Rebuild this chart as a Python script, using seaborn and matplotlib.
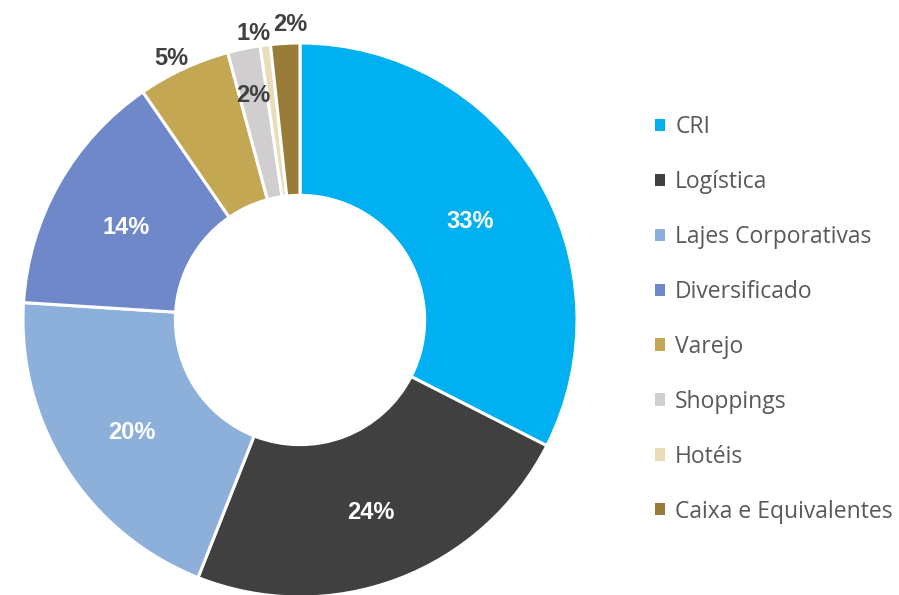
import numpy as np
import matplotlib
matplotlib.use("Agg")
import matplotlib.pyplot as plt
import seaborn as sns

categories = ["CRI", "Logística", "Lajes Corporativas", "Diversificado",
              "Varejo", "Shoppings", "Hotéis", "Caixa e Equivalentes"]
values = [32.5, 23.5, 20.0, 14.4, 5.4, 1.9, 0.6, 1.7]
pct_labels = ["33%", "24%", "20%", "14%", "5%", "2%", "1%", "2%"]
colors = ["#00B0F0", "#404040", "#8DB0DA", "#6E88C9",
          "#C3A752", "#D0CECF", "#E8DDB8", "#987C38"]

sns.set_theme(style="white")
plt.rcParams["font.family"] = ["Liberation Sans", "DejaVu Sans"]

fig = plt.figure(figsize=(8.99, 5.95), dpi=100)
W, H = 899, 595
cx, cy, R = 300, 320, 277
ax = fig.add_axes([(cx - R) / W, (H - cy - R) / H, 2 * R / W, 2 * R / H])

wedges, _ = ax.pie(values, colors=colors, startangle=90, counterclock=False,
                   radius=1.0, wedgeprops=dict(width=0.55, edgecolor="white", linewidth=2.2))
ax.set_xlim(-1, 1)
ax.set_ylim(-1, 1)
ax.set_aspect("equal")
ax.axis("off")

label_dist = [0.72, 0.72, 0.72, 0.72, 1.058, 0.835, 1.054, 1.076]
label_nudge = [0, 0, 0, 0, -1.2, 0, -2.0, 1.2]
label_dy = [-6, -6, -6, -6, -2, -2, -2, -2]
label_col = ["white", "white", "white", "white", "#404040", "#404040", "#404040", "#404040"]
for w, lab, d, nd, dy, c in zip(wedges, pct_labels, label_dist, label_nudge, label_dy, label_col):
    ang = np.deg2rad((w.theta1 + w.theta2) / 2 - nd)
    ax.text(d * np.cos(ang), d * np.sin(ang) + dy / R, lab, ha="center", va="center",
            fontsize=17, fontweight="bold", color=c, clip_on=False)

leg = fig.legend(wedges, categories, loc="upper left",
                 bbox_to_anchor=(655 / W, 1 - 115 / H), frameon=False,
                 prop={"family": ["Open Sans", "DejaVu Sans"], "size": 16.5},
                 labelcolor="#595959", handlelength=0.44, handleheight=0.44,
                 handletextpad=0.44, labelspacing=1.35, borderaxespad=0, borderpad=0)
for h in leg.legend_handles:
    h.set_edgecolor("none")

fig.savefig("out.png", dpi=100)
